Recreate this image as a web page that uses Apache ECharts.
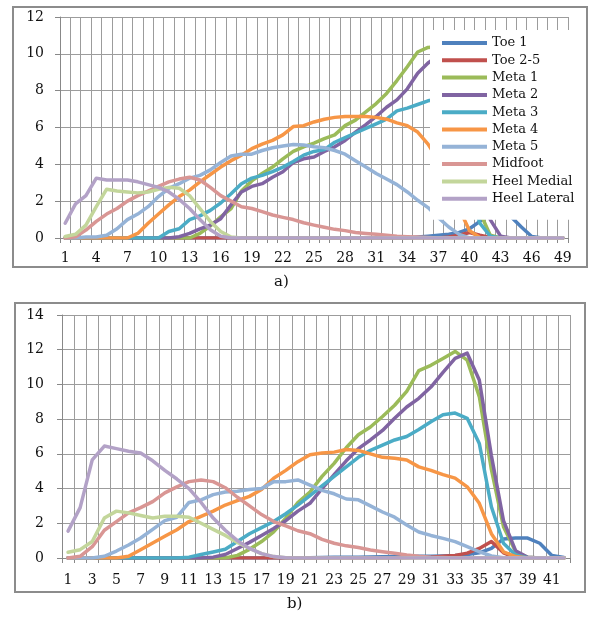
<!DOCTYPE html>
<html><head><meta charset="utf-8">
<script src="https://cdn.jsdelivr.net/npm/echarts@6/dist/echarts.min.js"></script>
<style>html,body{margin:0;padding:0;background:#fff}#c{width:590px;height:617px}</style>
</head><body><div id="c"></div>
<script>
const seriesNames = ['Toe 1','Toe 2-5','Meta 1','Meta 2','Meta 3','Meta 4','Meta 5','Midfoot','Heel Medial','Heel Lateral'];
const seriesColors = ['#4F81BD','#C0504D','#9BBB59','#8064A2','#4BACC6','#F79646','#95B3D7','#D99694','#C3D69B','#B3A2C7'];

const catsA = ['1','2','3','4','5','6','7','8','9','10','11','12','13','14','15','16','17','18','19','20','21','22','23','24','25','26','27','28','29','30','31','32','33','34','35','36','37','38','39','40','41','42','43','44','45','46','47','48','49'];
const catsB = ['1','2','3','4','5','6','7','8','9','10','11','12','13','14','15','16','17','18','19','20','21','22','23','24','25','26','27','28','29','30','31','32','33','34','35','36','37','38','39','40','41','42'];

// chart a)
const a_toe1 = [0,0,0,0,0,0,0,0,0,0,0,0,0,0,0,0,0,0,0,0,0,0,0,0,0,0,0,0,0,0,0,0,0,0,0.05,0.1,0.15,0.2,0.3,0.5,0.9,1.35,1.55,1.15,0.6,0.08,0,0,0];
const a_toe25 = [0,0,0,0,0,0,0,0,0,0,0,0,0,0,0,0,0,0,0,0,0,0,0,0,0,0,0,0,0,0,0,0,0,0,0,0,0,0.05,0.15,0.3,0.15,0.03,0,0,0,0,0,0,0];
const a_meta1 = [0,0,0,0,0,0,0,0,0,0,0,0,0,0.25,0.65,1.15,1.6,2.55,3.1,3.5,3.85,4.3,4.7,4.95,5.15,5.4,5.6,6.1,6.4,6.85,7.3,7.85,8.55,9.3,10.1,10.35,10.4,9.6,7.2,4.2,1.4,0.15,0,0,0,0,0,0,0];
const a_meta2 = [0,0,0,0,0,0,0,0,0,0,0,0.07,0.25,0.5,0.7,1.05,1.8,2.5,2.8,2.95,3.3,3.6,4.1,4.3,4.4,4.7,4.95,5.3,5.75,6.15,6.6,7.1,7.5,8.1,8.95,9.5,9.9,9.8,8.6,6.2,3.2,1.0,0.1,0,0,0,0,0,0];
const a_meta3 = [0,0,0,0,0,0,0,0,0,0,0.35,0.5,1.0,1.2,1.5,1.9,2.4,2.95,3.25,3.4,3.6,3.85,4.15,4.5,4.7,4.8,5.2,5.45,5.7,5.95,6.2,6.45,6.9,7.05,7.25,7.45,7.55,7.1,5.4,2.8,0.8,0.1,0,0,0,0,0,0,0];
const a_meta4 = [0,0,0,0,0,0,0,0.25,0.8,1.3,1.8,2.25,2.6,3.05,3.45,3.85,4.2,4.5,4.85,5.1,5.3,5.6,6.05,6.1,6.3,6.45,6.55,6.6,6.6,6.6,6.55,6.45,6.25,6.1,5.75,5.1,4.2,3.0,1.6,0.4,0.03,0,0,0,0,0,0,0,0];
const a_meta5 = [0,0,0.05,0.05,0.15,0.5,1.0,1.3,1.7,2.25,2.7,2.95,3.25,3.4,3.7,4.1,4.45,4.55,4.55,4.75,4.9,5.0,5.08,5.05,4.95,4.9,4.75,4.55,4.2,3.85,3.5,3.2,2.9,2.5,2.05,1.65,1.1,0.6,0.2,0,0,0,0,0,0,0,0,0,0];
const a_midfoot = [0,0.07,0.43,0.9,1.3,1.6,2.0,2.3,2.55,2.8,3.05,3.2,3.3,3.15,2.75,2.3,2.0,1.7,1.6,1.43,1.25,1.12,1.0,0.83,0.7,0.58,0.47,0.4,0.3,0.25,0.2,0.15,0.1,0.07,0.05,0.03,0,0,0,0,0,0,0,0,0,0,0,0,0];
const a_heelMed = [0.08,0.2,0.7,1.7,2.65,2.55,2.5,2.45,2.5,2.65,2.75,2.7,2.3,1.6,0.9,0.35,0.05,0,0,0,0,0,0,0,0,0,0,0,0,0,0,0,0,0,0,0,0,0,0,0,0,0,0,0,0,0,0,0,0];
const a_heelLat = [0.8,1.85,2.3,3.25,3.15,3.15,3.15,3.05,2.9,2.75,2.5,2.1,1.6,1.0,0.45,0.1,0,0,0,0,0,0,0,0,0,0,0,0,0,0,0,0,0,0,0,0,0,0,0,0,0,0,0,0,0,0,0,0,0];

// chart b)
const b_toe1 = [0,0,0,0,0,0,0,0,0,0,0,0,0,0,0,0,0,0,0,0,0.02,0.03,0.04,0.05,0.05,0.06,0.07,0.08,0.08,0.1,0.1,0.12,0.15,0.2,0.3,0.55,1.1,1.15,1.15,0.85,0.15,0.03];
const b_toe25 = [0,0,0,0,0,0,0,0,0,0,0,0,0,0,0,0,0,0,0,0,0,0,0,0,0,0,0,0,0.02,0.03,0.05,0.1,0.15,0.28,0.55,0.95,0.3,0.02,0,0,0,0];
const b_meta1 = [0,0,0,0,0,0,0,0,0,0,0,0,0,0,0.15,0.5,0.95,1.5,2.3,3.2,3.8,4.7,5.45,6.35,7.1,7.55,8.15,8.8,9.6,10.8,11.1,11.5,11.9,11.4,9.3,5.1,1.8,0.37,0.04,0,0,0];
const b_meta2 = [0,0,0,0,0,0,0,0,0,0,0,0,0.05,0.2,0.55,0.9,1.3,1.7,2.15,2.7,3.15,4.0,4.8,5.6,6.3,6.8,7.35,8.05,8.7,9.2,9.85,10.7,11.5,11.8,10.25,5.9,2.15,0.42,0.04,0,0,0];
const b_meta3 = [0,0,0,0,0,0,0,0,0,0,0.05,0.2,0.35,0.5,0.95,1.4,1.75,2.1,2.55,3.05,3.6,4.15,4.7,5.25,5.8,6.2,6.5,6.8,7.0,7.4,7.85,8.25,8.35,8.05,6.6,2.95,0.85,0.17,0.02,0,0,0];
const b_meta4 = [0,0,0,0,0,0.1,0.48,0.86,1.25,1.63,2.1,2.4,2.7,3.05,3.3,3.55,3.95,4.6,5.05,5.55,5.95,6.05,6.1,6.25,6.2,6.0,5.8,5.75,5.65,5.25,5.05,4.8,4.6,4.1,3.15,1.4,0.36,0.08,0,0,0,0];
const b_meta5 = [0,0,0,0.1,0.4,0.75,1.15,1.65,2.15,2.35,3.2,3.35,3.65,3.8,3.85,3.95,4.0,4.4,4.4,4.5,4.2,3.9,3.7,3.4,3.35,3.0,2.65,2.35,1.9,1.5,1.3,1.13,0.94,0.65,0.36,0.12,0.02,0,0,0,0,0];
const b_midfoot = [0,0.1,0.65,1.6,2.1,2.6,2.9,3.25,3.75,4.1,4.4,4.5,4.4,4.05,3.5,3.0,2.5,2.1,1.85,1.57,1.4,1.07,0.85,0.7,0.6,0.46,0.36,0.27,0.17,0.1,0.05,0.03,0,0,0,0,0,0,0,0,0,0];
const b_heelMed = [0.33,0.48,0.95,2.3,2.7,2.6,2.45,2.3,2.4,2.4,2.35,2.0,1.65,1.3,0.9,0.55,0.25,0.08,0.02,0,0,0,0,0,0,0,0,0,0,0,0,0,0,0,0,0,0,0,0,0,0,0];
const b_heelLat = [1.55,2.9,5.65,6.45,6.3,6.15,6.05,5.6,5.05,4.55,4.0,3.2,2.3,1.6,1.0,0.55,0.25,0.08,0.02,0,0,0,0,0,0,0,0,0,0,0,0,0,0,0,0,0,0,0,0,0,0,0];

const dataA = [a_toe1,a_toe25,a_meta1,a_meta2,a_meta3,a_meta4,a_meta5,a_midfoot,a_heelMed,a_heelLat];
const dataB = [b_toe1,b_toe25,b_meta1,b_meta2,b_meta3,b_meta4,b_meta5,b_midfoot,b_heelMed,b_heelLat];

const FONT = 'DejaVu Serif';
const GRID = '#9c9c9c';
const AXIS = '#888888';

function makeSeries(arrs, idx) {
  return arrs.map((d, i) => ({
    name: seriesNames[i], type: 'line', xAxisIndex: idx, yAxisIndex: idx,
    data: d, symbol: 'none', smooth: false,
    lineStyle: { width: 3.5, color: seriesColors[i], join: 'round', cap: 'round' },
    itemStyle: { color: seriesColors[i] },
    emphasis: { disabled: true }
  }));
}
function xAx(idx, cats, interval, margin) {
  return {
    gridIndex: idx, type: 'category', data: cats, boundaryGap: true,
    axisLine: { lineStyle: { color: AXIS, width: 1 } },
    axisTick: { show: true, interval: 0, length: 5, lineStyle: { color: AXIS } },
    splitLine: { show: true, interval: 0, lineStyle: { color: GRID, width: 1 } },
    axisLabel: { interval: interval, margin: margin, fontFamily: FONT, fontSize: 14, color: '#111' }
  };
}
function yAx(idx, max, margin) {
  return {
    gridIndex: idx, type: 'value', min: 0, max: max, interval: 2,
    axisLine: { show: true, lineStyle: { color: AXIS, width: 1 } },
    axisTick: { show: true, length: 5, lineStyle: { color: AXIS } },
    splitLine: { show: true, lineStyle: { color: GRID, width: 1 } },
    axisLabel: { margin: margin, fontFamily: FONT, fontSize: 14, color: '#111' }
  };
}

const chart = echarts.init(document.getElementById('c'), null, { renderer: 'canvas' });
chart.setOption({
  animation: false,
  backgroundColor: '#fff',
  grid: [
    { left: 60, top: 17, width: 508, height: 221 },
    { left: 62, top: 315, width: 508, height: 243 }
  ],
  xAxis: [xAx(0, catsA, 2, 13), xAx(1, catsB, 1, 15)],
  yAxis: [yAx(0, 12, 16), yAx(1, 14, 18)],
  legend: {
    data: seriesNames, orient: 'vertical', left: 430, top: 30,
    padding: [6, 6, 14, 12], backgroundColor: '#fff',
    icon: 'rect', itemWidth: 45, itemHeight: 4, itemGap: 3.3,
    selectedMode: false,
    textStyle: { fontFamily: FONT, fontSize: 13, lineHeight: 14, color: '#111' }
  },
  graphic: [
    { type: 'rect', shape: { x: 13, y: 7, width: 574, height: 260 }, style: { fill: 'none', stroke: '#8c8c8c', lineWidth: 2 }, z: 10 },
    { type: 'rect', shape: { x: 15, y: 303, width: 570, height: 289 }, style: { fill: 'none', stroke: '#8c8c8c', lineWidth: 2 }, z: 10 },
    { type: 'text', left: 274, top: 275, style: { text: 'a)', font: '15px "DejaVu Serif"', fill: '#111' } },
    { type: 'text', left: 287, top: 597, style: { text: 'b)', font: '15px "DejaVu Serif"', fill: '#111' } }
  ],
  series: makeSeries(dataA, 0).concat(makeSeries(dataB, 1))
});
</script></body></html>
